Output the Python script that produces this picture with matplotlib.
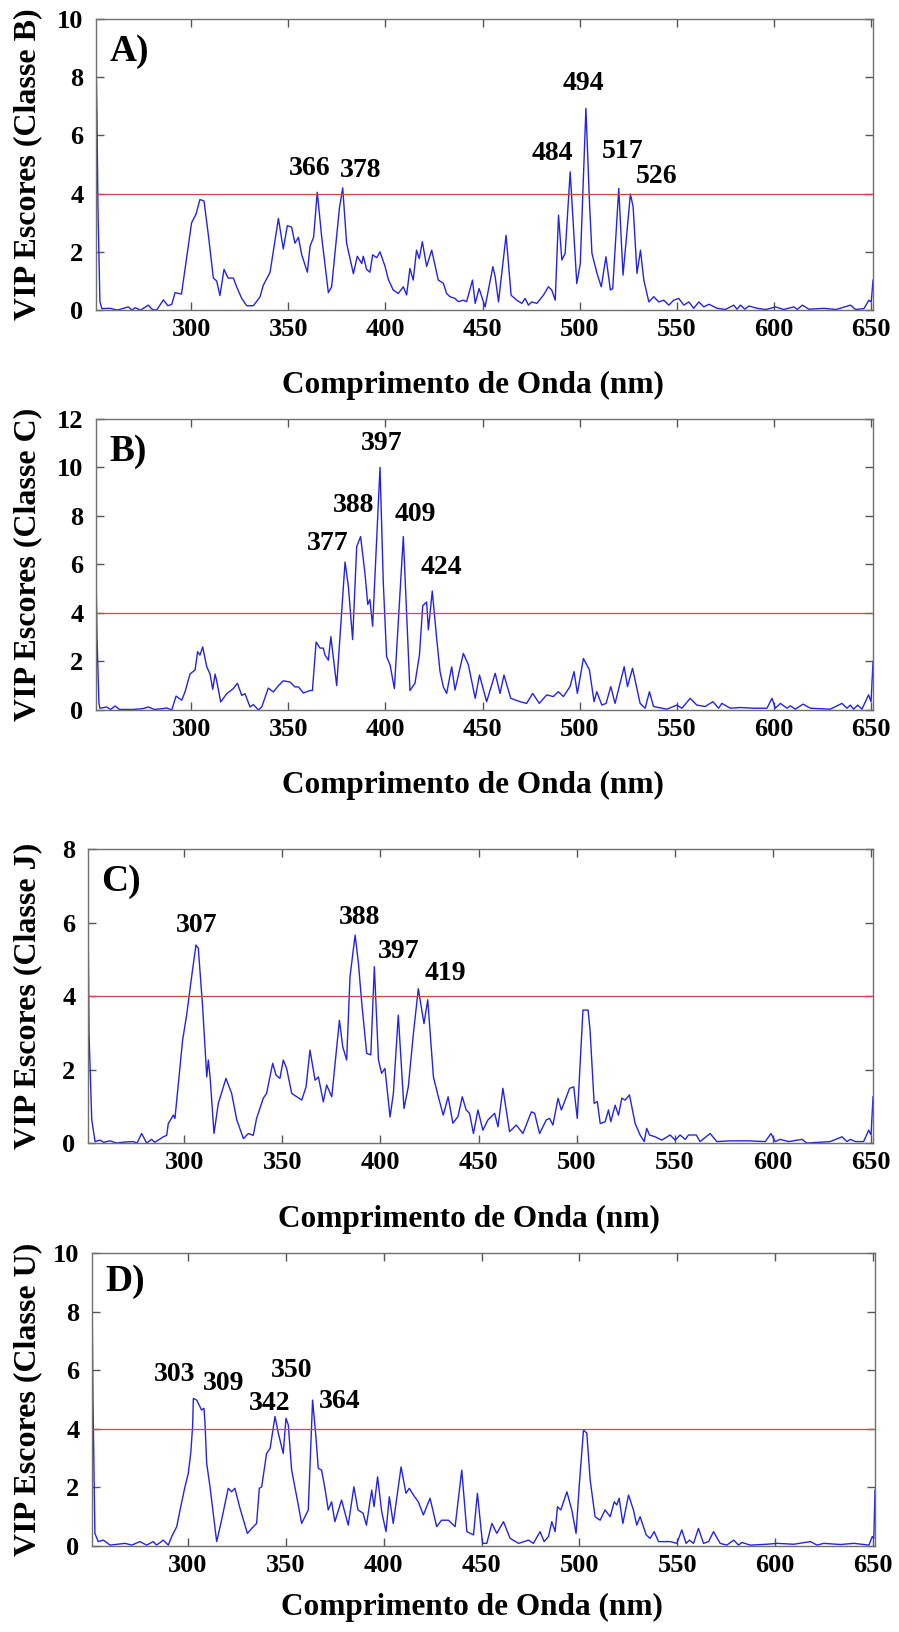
import matplotlib
matplotlib.use('Agg')
import matplotlib.pyplot as plt

plt.rcParams['font.family'] = ['Liberation Serif', 'DejaVu Serif']
plt.rcParams['font.weight'] = 'bold'
plt.rcParams['axes.labelweight'] = 'bold'

# Classe B
wl_a = [251, 251.5, 252, 253, 254, 258.2, 262, 267.6, 269.5, 271.1, 274, 277.9, 280, 282.2, 285.7, 288, 290,
        291.7, 295, 300.2, 302.5, 304.5, 306.6, 308.8, 311.4, 313.1, 314.8, 316.9, 319, 321.7, 323.4, 326,
        328.6, 332, 335.4, 337.1, 340.6, 344.9, 347.4, 349.5, 351.7, 353.4, 355.2, 356.9, 359.8, 361.2, 363,
        364.9, 367.2, 370.6, 372.3, 376.3, 378, 380, 383.5, 385.5, 387.8, 388.6, 390.3, 392, 393.4, 395.5,
        397.2, 399.8, 401.5, 404, 406.6, 409.2, 410.9, 412.6, 414.3, 416, 417.4, 419, 421.2, 423.8, 427.2,
        429.8, 431.5, 433.2, 435.8, 437.5, 440.1, 441.8, 444.8, 446.2, 448.2, 451.3, 455.3, 456.5, 458.2,
        462.1, 464.7, 467.6, 470.2, 471.9, 473.6, 475.3, 477.9, 481.3, 483.9, 485.6, 487.4, 489.1, 490.8,
        492.5, 495.1, 498.5, 500.3, 503.2, 505.1, 506.3, 508.9, 511.1, 513.5, 515.8, 517, 520.1, 522.3,
        526.1, 527.5, 529.5, 531.3, 533, 535.6, 538.1, 540.7, 543.3, 545.9, 548.4, 551, 553.6, 556.2, 558.7,
        561.3, 563.9, 566.5, 570.8, 575, 579.3, 581, 582.8, 585, 587.1, 591.4, 596, 600.8, 605, 610.3, 612,
        614.6, 618, 625.7, 632, 639.4, 642, 646.3, 648.9, 650.1, 651]
vip_a = [8.9, 6.5, 3.5, 0.3, 0.05, 0.06, 0.0, 0.11, 0.0, 0.08, 0.0, 0.17, 0.02, 0.0, 0.35, 0.15, 0.2,
         0.6, 0.55, 3.0, 3.3, 3.8, 3.75, 2.6, 1.1, 1.0, 0.5, 1.4, 1.1, 1.1, 0.8, 0.4,
         0.15, 0.15, 0.45, 0.85, 1.3, 3.15, 2.1, 2.9, 2.85, 2.3, 2.5, 1.9, 1.3, 2.2, 2.5,
         4.05, 2.5, 0.6, 0.8, 3.5, 4.2, 2.3, 1.25, 1.85, 1.6, 1.85, 1.4, 1.3, 1.9, 1.8,
         2.0, 1.5, 1.05, 0.69, 0.57, 0.8, 0.52, 1.43, 1.03, 2.06, 1.77, 2.35, 1.5, 2.06, 1.03,
         0.92, 0.57, 0.46, 0.4, 0.29, 0.34, 0.29, 1.03, 0.23, 0.74, 0.11, 1.49, 1.14, 0.28,
         2.57, 0.51, 0.34, 0.23, 0.4, 0.17, 0.28, 0.23, 0.51, 0.8, 0.69, 0.34, 3.26, 1.72,
         1.95, 4.75, 0.91, 1.6, 6.93, 3.6, 1.95, 1.26, 0.8, 1.83, 0.69, 0.74, 4.18, 1.2,
         3.99, 3.55, 1.26, 2.06, 1.03, 0.28, 0.46, 0.28, 0.34, 0.17, 0.34, 0.4, 0.17, 0.28, 0.06,
         0.28, 0.11, 0.2, 0.06, 0.02, 0.17, 0.03, 0.17, 0.03, 0.14, 0.06, 0.02, 0.11, 0.02, 0.11, 0.02,
         0.17, 0.03, 0.06, 0.02, 0.17, 0.02, 0.05, 0.34, 0.28, 1.03]

# Classe C
wl_b = [251, 251.5, 252.5, 253, 256.5, 258.5, 260.8, 263, 270, 275, 278, 281, 285, 287.4, 290, 292.2, 295.1,
        296.8, 299.4, 302, 303.3, 304.5, 305.9, 308, 309.7, 311.1, 312.3, 313.1, 315.2, 318.3, 321.7, 323.8,
        326, 327.7, 330.3, 332, 334.6, 336.3, 339.7, 342.3, 344.9, 347.4, 350.9, 353.4, 355.2, 357.7, 361.2,
        362.4, 364.3, 366.3, 368, 368.9, 370.6, 371.9, 374.9, 379.2, 380.9, 383.1, 385.2, 387.2, 389.5, 390.9,
        392, 393.4, 397.2, 398.9, 400.6, 402.4, 404.6, 409.2, 412.6, 415.2, 417.5, 419.2, 421.2, 422.1, 424.1,
        426.3, 428.1, 429.8, 431.5, 434.1, 435.8, 440.1, 442.7, 446.2, 448.4, 452.1, 456.5, 459, 461, 464.5,
        469.3, 472.7, 475.8, 479.2, 483, 486.4, 489, 491.6, 495, 497.1, 498.8, 501.9, 505, 507.4, 508.8,
        511.4, 513.6, 516, 518.2, 522.9, 524.6, 527.2, 531.1, 533.7, 535.9, 538, 544.9, 550, 552.6, 556.9,
        560.3, 564.6, 568.6, 571.5, 573.2, 577.5, 582.7, 589.5, 596.4, 599, 600.7, 603.3, 606.7, 608.4, 611,
        615, 618.7, 629, 635, 637.6, 639.3, 641, 643.1, 645.3, 648.7, 650, 651]
vip_b = [5.8, 3.0, 0.3, 0.07, 0.12, 0.02, 0.16, 0.02, 0.02, 0.05, 0.12, 0.02, 0.05, 0.08, 0.0, 0.57, 0.4,
         0.74, 1.48, 1.65, 2.4, 2.26, 2.6, 1.78, 1.48, 0.85, 1.48, 1.2, 0.33, 0.67, 0.88, 1.1,
         0.6, 0.67, 0.12, 0.22, 0.0, 0.12, 0.9, 0.74, 1.0, 1.2, 1.15, 0.95, 0.95, 0.7, 0.8,
         0.8, 2.8, 2.55, 2.55, 2.26, 2.05, 3.02, 1.0, 6.1, 5.1, 2.9, 6.73, 7.15, 5.6, 4.35,
         4.55, 3.45, 10.0, 5.23, 2.2, 1.85, 0.88, 7.15, 0.8, 1.1, 2.26, 4.3, 4.45, 3.3, 4.9,
         3.0, 1.58, 0.95, 0.68, 1.78, 0.82, 2.33, 1.86, 0.48, 1.44, 0.34, 1.51, 0.68, 1.44, 0.48,
         0.34, 0.27, 0.68, 0.27, 0.62, 0.55, 0.75, 0.55, 0.96, 1.58, 0.68, 2.12, 1.65, 0.34, 0.75,
         0.2, 0.27, 0.96, 0.27, 1.78, 0.96, 1.72, 0.27, 0.07, 0.75, 0.14, 0.03, 0.2, 0.07, 0.48,
         0.2, 0.14, 0.34, 0.07, 0.27, 0.07, 0.1, 0.07, 0.07, 0.48, 0.07, 0.27, 0.07, 0.17, 0.03,
         0.24, 0.07, 0.03, 0.27, 0.07, 0.2, 0.03, 0.2, 0.03, 0.62, 0.34, 2.0]

# Classe J
wl_c = [251, 251.5, 252.9, 254.6, 257.1, 259, 262.2, 265.6, 270, 274.1, 276, 278.3, 280.9, 283.4, 285, 286.8,
        289.4, 291.1, 291.9, 294.5, 295.3, 299.2, 301.3, 303.8, 306, 307.2, 309.4, 311.5, 312.3, 313.2, 315.2,
        317.4, 321.3, 324.2, 326.8, 330.2, 332.7, 335.2, 336.9, 340.3, 342, 345.1, 346.8, 348.8, 350.5, 352.2,
        354.8, 357.3, 359.9, 362.1, 364.1, 366.7, 368.4, 370.9, 372.6, 375.2, 379.1, 380.8, 382.8, 384.5,
        387.1, 388.8, 390.5, 393, 395.1, 396.9, 399, 400.6, 402.3, 404.9, 406.6, 409.1, 412, 414.2, 416.8,
        419.3, 422.2, 424.1, 427, 429.5, 432, 434.5, 436.9, 439.5, 441.7, 443.7, 445.4, 447.4, 449.7, 452.2,
        454.8, 458.2, 459.9, 462.4, 465.8, 469.2, 472.6, 476.9, 478.6, 481.1, 484.5, 486.2, 487.9, 490.5,
        492.2, 496.4, 498.5, 500.3, 503.2, 505.8, 506.8, 508.9, 510.5, 512, 514.5, 516.2, 517.4, 519.6, 521.3,
        523, 524.7, 526.9, 529.8, 532.3, 534.4, 535.7, 537.1, 540, 543.4, 547.6, 550.2, 552.7, 555.3, 557,
        560.9, 562.9, 568, 571.4, 578.2, 587.6, 596.1, 599, 601.2, 603.7, 608, 614.8, 617.3, 629.2, 635.2,
        637.7, 639.4, 642, 646.2, 648.8, 650, 651]
vip_c = [6.5, 3.0, 0.63, 0.04, 0.08, 0.02, 0.06, 0.0, 0.03, 0.04, 0.0, 0.26, 0.0, 0.1, 0.02, 0.08,
         0.17, 0.21, 0.53, 0.76, 0.67, 2.8, 3.5, 4.53, 5.39, 5.3, 3.71, 1.8, 2.26, 1.8, 0.26,
         1.08, 1.76, 1.35, 0.63, 0.12, 0.26, 0.21, 0.67, 1.22, 1.35, 2.17, 1.85, 1.76, 2.26, 2.03,
         1.35, 1.26, 1.17, 1.53, 2.53, 1.71, 1.8, 1.12, 1.58, 1.26, 3.34, 2.62, 2.26, 4.53,
         5.66, 4.89, 3.8, 2.44, 2.4, 4.8, 2.26, 1.9, 2.03, 0.71, 1.35, 3.48, 0.94, 1.53, 2.98,
         4.2, 3.25, 3.9, 1.8, 1.26, 0.76, 1.26, 0.54, 0.72, 1.26, 0.9, 0.81, 0.26, 0.9, 0.35,
         0.63, 0.81, 0.44, 1.49, 0.31, 0.49, 0.26, 0.85, 0.81, 0.26, 0.63, 0.67, 0.49, 1.22,
         0.9, 1.49, 1.53, 0.67, 3.62, 3.62, 3.08, 1.08, 1.13, 0.53, 0.58, 0.9, 0.58, 1.03, 0.76,
         1.22, 1.17, 1.31, 0.53, 0.22, 0.04, 0.4, 0.22, 0.17, 0.08, 0.22, 0.08, 0.22, 0.1, 0.22,
         0.22, 0.04, 0.26, 0.04, 0.06, 0.06, 0.04, 0.26, 0.04, 0.1, 0.04, 0.1, 0.0, 0.04, 0.17,
         0.04, 0.1, 0.04, 0.04, 0.35, 0.22, 1.26]

# Classe U
wl_d = [251, 251.5, 252.5, 254.2, 256.8, 260.2, 264, 267.9, 271.3, 275.5, 278.9, 282.3, 284, 287.4, 290,
        291.7, 294.3, 296, 298.5, 300.2, 301.5, 302.4, 302.8, 304.5, 307, 308.2, 308.7, 309.6, 311.3, 314.7,
        317.2, 320.6, 322.3, 324, 326.6, 330.4, 332.6, 335.1, 336.5, 337.7, 340.2, 342, 344.5, 346.2, 348.7,
        350.1, 351.3, 353, 355.6, 358.1, 359.8, 361.5, 363.7, 365.4, 366.6, 368.3, 370, 371.7, 373.4, 375.1,
        378.5, 381.9, 384.8, 386.9, 389.5, 391.2, 393.9, 395.1, 396.9, 399, 401.2, 402.9, 404.9, 408.9, 411.4,
        413.1, 415.2, 417.7, 420.3, 423.7, 427.1, 429.6, 433.1, 436.5, 439.9, 442.5, 445.9, 447.9, 450.5,
        452.7, 455.3, 457.8, 461.2, 464.6, 468.9, 474, 476.5, 479.9, 482, 484.2, 485.9, 487.6, 488.8, 490.5,
        493.6, 496.1, 498.3, 500, 502.1, 503.8, 505.5, 508, 510.6, 513.1, 515.7, 517.8, 519.1, 520.3, 522.2,
        525.1, 527.6, 529.3, 531, 534.1, 536.1, 538.2, 540.4, 546.4, 549.8, 552.3, 554.5, 556.2, 558.3,
        560.8, 563.4, 566, 568.5, 571.9, 575.3, 578.8, 581.3, 583, 587.3, 595.8, 600.9, 609.5, 618, 621.4,
        624.8, 633.4, 640.2, 647.9, 649.6, 650.4, 651]
vip_d = [9.2, 5.0, 0.43, 0.15, 0.2, 0.03, 0.06, 0.09, 0.03, 0.15, 0.03, 0.15, 0.03, 0.2, 0.03,
         0.32, 0.66, 1.23, 2.02, 2.48, 3.2, 4.07, 5.04, 4.98, 4.64, 4.7, 4.24, 2.82, 2.02, 0.15,
         0.88, 1.97, 1.85, 1.97, 1.29, 0.43, 0.6, 0.77, 1.97, 2.02, 3.16, 3.33, 4.42, 3.85, 3.16,
         4.36, 4.13, 2.59, 1.68, 0.77, 1.0, 1.23, 4.98, 3.73, 2.65, 2.59, 1.97, 1.23, 1.51, 0.83,
         1.57, 0.71, 2.02, 1.23, 1.12, 0.71, 1.91, 1.34, 2.36, 1.17, 0.49, 1.68, 0.77, 2.7, 1.8,
         1.97, 1.74, 1.51, 1.06, 1.63, 0.66, 0.88, 0.88, 0.66, 2.59, 0.49, 0.38, 1.8, 0.09,
         0.09, 0.77, 0.43, 0.83, 0.26, 0.09, 0.2, 0.09, 0.49, 0.15, 0.32, 0.83, 0.49, 1.34, 1.23,
         1.85, 1.23, 0.43, 2.14, 3.96, 3.85, 2.25, 1.0, 0.88, 1.23, 1.0, 1.51, 1.4, 1.63, 0.77,
         1.74, 1.23, 0.71, 1.0, 0.38, 0.26, 0.49, 0.15, 0.15, 0.09, 0.55, 0.09, 0.2, 0.09,
         0.6, 0.09, 0.15, 0.49, 0.09, 0.03, 0.2, 0.03, 0.12, 0.03, 0.06, 0.09, 0.06, 0.15, 0.03,
         0.09, 0.05, 0.09, 0.03, 0.32, 0.26, 1.91]

ylabels = ['VIP Escores (Classe B)', 'VIP Escores (Classe C)', 'VIP Escores (Classe J)', 'VIP Escores (Classe U)']
panel_tags = ['A)', 'B)', 'C)', 'D)']
ymax = [10, 12, 8, 10]
threshold = 4

peaks_a = [('366', 361.2, 4.87), ('378', 387.3, 4.81), ('484', 486.1, 5.38), ('494', 501.9, 7.79),
           ('517', 522.1, 5.44), ('526', 539.6, 4.58)]
peaks_b = [('377', 370.3, 6.87), ('388', 383.5, 8.45), ('397', 398.1, 11.0), ('409', 415.2, 8.04),
           ('424', 428.9, 5.88)]
peaks_c = [('307', 306.4, 5.93), ('388', 389.6, 6.13), ('397', 409.1, 5.21), ('419', 432.9, 4.62)]
peaks_d = [('303', 293.4, 5.84), ('309', 318.1, 5.55), ('342', 341.9, 4.87), ('350', 353.0, 6.0),
           ('364', 377.7, 4.93)]
tag_y = [8.88, 10.65, 7.11, 9.02]

rects = [[0.1068, 0.8100, 0.8643, 0.1783],
         [0.1068, 0.5650, 0.8643, 0.1783],
         [0.0979, 0.2996, 0.8732, 0.1801],
         [0.1023, 0.0527, 0.8710, 0.1795]]
ylab_x = [-0.0695, -0.0695, -0.0586, -0.0639]
xlab_y = [-0.21, -0.21, -0.21, -0.16]

series = [(wl_a, vip_a, peaks_a), (wl_b, vip_b, peaks_b), (wl_c, vip_c, peaks_c), (wl_d, vip_d, peaks_d)]

fig = plt.figure(figsize=(8.99, 16.32), dpi=100)
for i, (wl, vip, peaks) in enumerate(series):
    ax = fig.add_axes(rects[i])
    ax.plot(wl, vip, color='#2424e0', lw=1.0)
    ax.axhline(threshold, color='#e0404a', lw=0.9)
    ax.set_xlim(251, 651)
    ax.set_ylim(0, ymax[i])
    ax.set_xticks(range(300, 651, 50))
    ax.set_yticks(range(0, ymax[i] + 1, 2))
    ax.tick_params(direction='in', top=True, right=True, length=6, width=1, color='#555555',
                   labelsize=19)
    ax.tick_params(axis='x', pad=6)
    ax.tick_params(axis='y', pad=9)
    for s in ax.spines.values():
        s.set_color('#707070')
        s.set_linewidth(1.0)
    for lab, x, y in peaks:
        ax.text(x, y, lab, ha='center', va='center', fontsize=20, fontweight='bold')
    ax.text(257.8, tag_y[i], panel_tags[i], ha='left', va='center', fontsize=27, fontweight='bold')
    ax.set_ylabel(ylabels[i], fontsize=23, fontweight='bold')
    ax.yaxis.set_label_coords(ylab_x[i], 0.5)
    ax.set_xlabel('Comprimento de Onda (nm)', fontsize=22.5, fontweight='bold')
    ax.xaxis.set_label_coords(0.485, xlab_y[i])

fig.savefig('out.png', dpi=100)
